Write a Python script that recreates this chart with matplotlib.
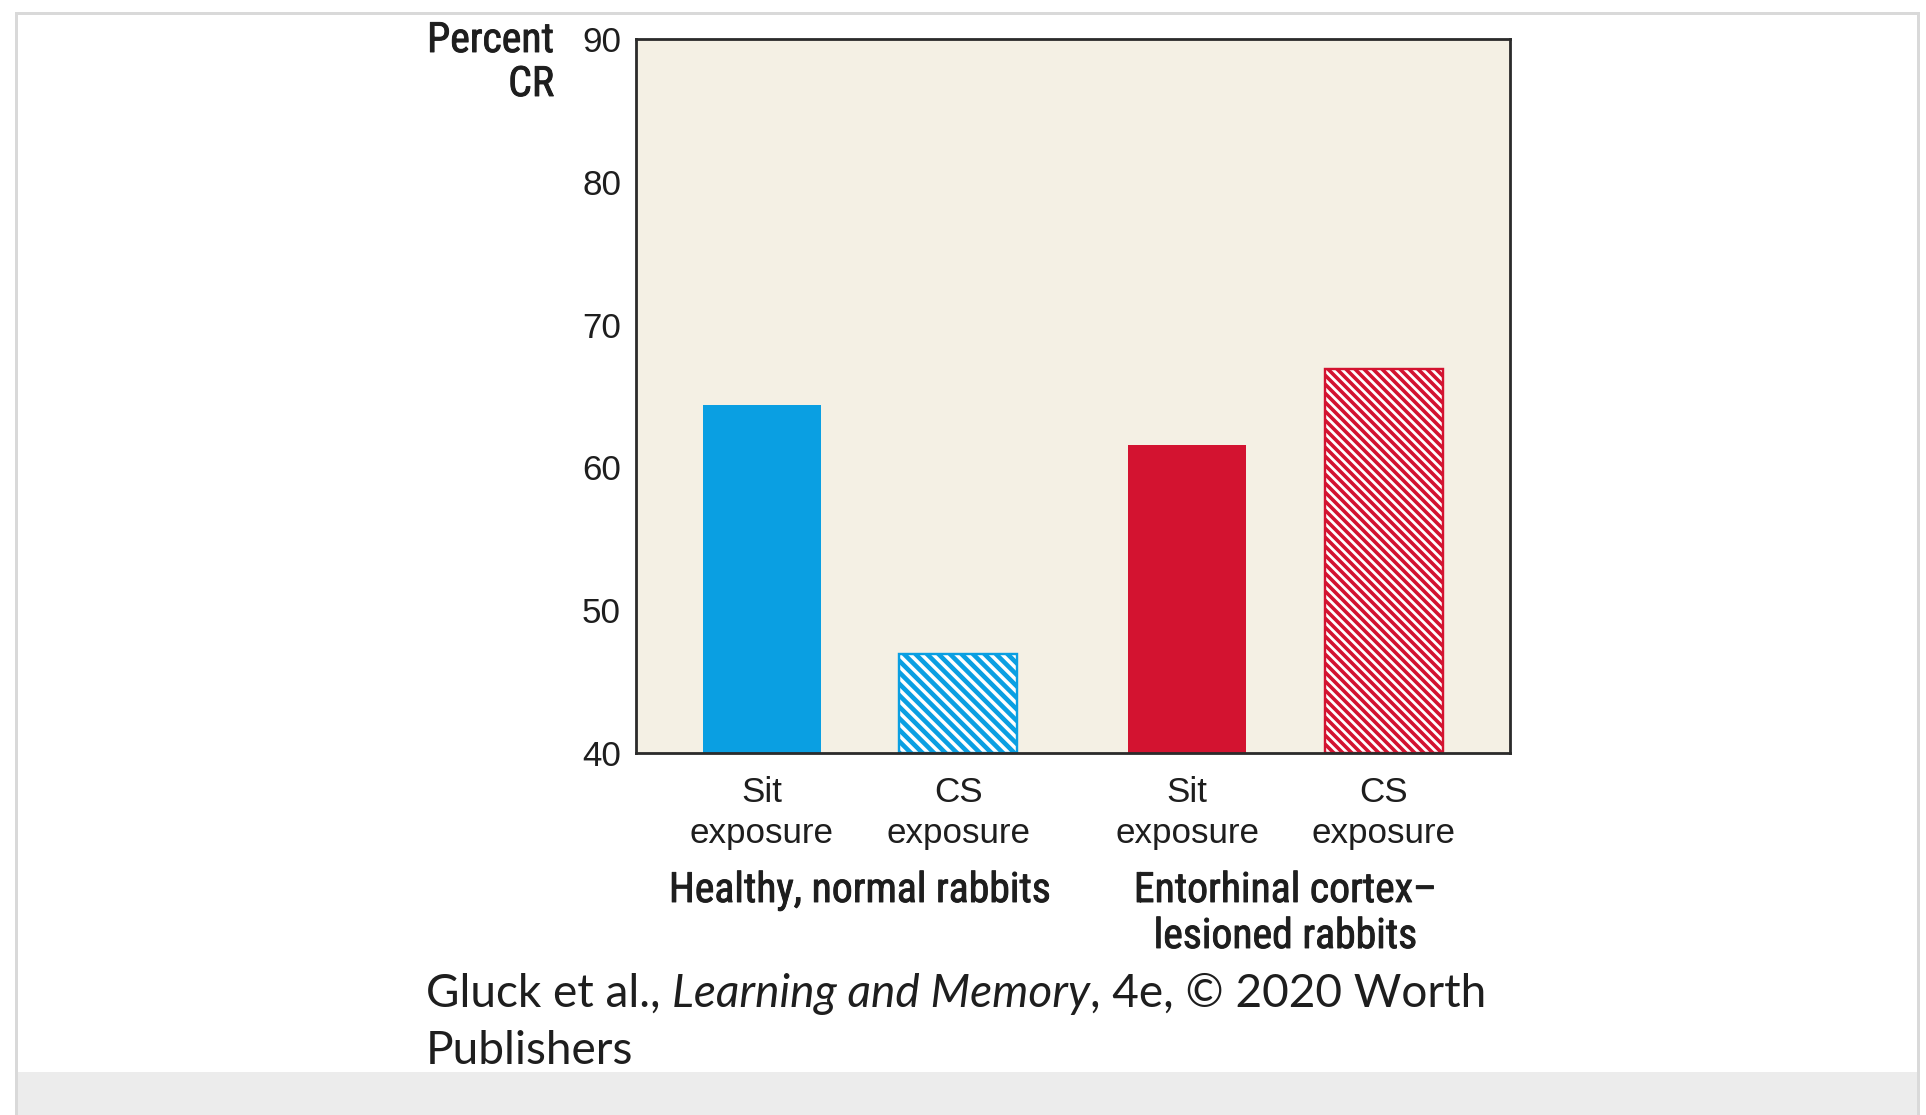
import matplotlib
matplotlib.use('Agg')
import matplotlib.pyplot as plt
from matplotlib import font_manager
from matplotlib import patheffects
from matplotlib.patches import Rectangle
from matplotlib.collections import LineCollection
from matplotlib.transforms import IdentityTransform, blended_transform_factory
import numpy as np

# ---------------- data ----------------
conditions = ['Sit\nexposure', 'CS\nexposure', 'Sit\nexposure', 'CS\nexposure']
groups = ['Healthy, normal rabbits', 'Entorhinal cortex–\nlesioned rabbits']
percent_cr = [64.4, 46.9, 61.6, 66.9]
bar_group = [0, 0, 1, 1]
bar_hatched = [False, True, False, True]
yticks = [40, 50, 60, 70, 80, 90]
ylabel_lines = ['Percent', 'CR']
footer_parts = [('Gluck et al., ', 'normal'), ('Learning and Memory', 'italic'),
                (', 4e, © 2020 Worth', 'normal')]
footer_line2 = 'Publishers'

# ---------------- style ----------------
group_colors = ['#0a9fe2', '#d31330']
hatch_spacing = [11.5, 9.0]     # px between stripes
hatch_lw = [4.6, 3.6]
axes_bg = '#f4f0e4'
spine_color = '#2b2b2b'
text_color = '#1e1e1e'

names = {f.name for f in font_manager.fontManager.ttflist}
def pick(cands, default='DejaVu Sans'):
    for c in cands:
        if c in names:
            return c
    return default

SANS = pick(['Liberation Sans', 'Arial', 'DejaVu Sans'])
COND = pick(['Liberation Sans Narrow', 'Roboto Condensed', 'Open Sans Condensed', 'DejaVu Sans'])
COND_STRETCH = 'condensed' if COND == 'DejaVu Sans' else 'normal'
FOOT = pick(['Lato', 'Open Sans', 'Noto Sans', 'DejaVu Sans'])
semi_bold = [patheffects.withStroke(linewidth=0.9, foreground=text_color)]

W, H = 1926, 1115
DPI = 72
fig = plt.figure(figsize=(W / DPI, H / DPI), dpi=DPI)
fig.patch.set_facecolor('white')

def fx(px):
    return px / W

def fy(py):
    return 1 - py / H

# page frame
fig.add_artist(Rectangle((fx(16), fy(1130)), fx(1918) - fx(16), fy(13) - fy(1130),
                         transform=fig.transFigure, facecolor='white',
                         edgecolor='#d9d9d9', lw=3, zorder=-10))
fig.add_artist(Rectangle((fx(17.5), fy(1116)), fx(1916.5) - fx(17.5), fy(1072) - fy(1116),
                         transform=fig.transFigure, facecolor='#ececec',
                         edgecolor='none', zorder=-9))

ax = fig.add_axes([fx(636), fy(753), (1510 - 636) / W, (753 - 39) / H])
ax.set_facecolor(axes_bg)

xpos = [0, 1, 2.165, 3.165]
bar_w = 0.6
ax.set_xlim(-0.641, 3.807)
ax.set_ylim(yticks[0], yticks[-1])

bars = []
for x, v, g, h in zip(xpos, percent_cr, bar_group, bar_hatched):
    c = group_colors[g]
    if h:
        b = ax.bar(x, v - yticks[0], bottom=yticks[0], width=bar_w, color='white',
                   edgecolor=c, linewidth=2.4, zorder=2)[0]
    else:
        b = ax.bar(x, v - yticks[0], bottom=yticks[0], width=bar_w, color=c,
                   edgecolor='none', zorder=2)[0]
    bars.append((b, g, h))

# manual diagonal hatching (top-left to bottom-right), in pixel space
for b, g, h in bars:
    if not h:
        continue
    x0, y0 = ax.transData.transform((b.get_x(), b.get_y()))
    x1, y1 = ax.transData.transform((b.get_x() + b.get_width(), b.get_y() + b.get_height()))
    s = hatch_spacing[g]
    segs = []
    c = x0 + y0
    while c <= x1 + y1 + s:
        segs.append([(x0 - 20, c - (x0 - 20)), (x1 + 20, c - (x1 + 20))])
        c += s
    lc = LineCollection(segs, colors=group_colors[g], linewidths=hatch_lw[g],
                        transform=IdentityTransform(), zorder=2.5)
    ax.add_collection(lc, autolim=False)
    lc.set_clip_path(b)

for sp in ax.spines.values():
    sp.set_color(spine_color)
    sp.set_linewidth(2.8)
    sp.set_zorder(5)

ax.set_yticks(yticks)
ax.set_yticklabels([str(t) for t in yticks], fontsize=35, family=SANS, color=text_color)
ax.set_xticks(xpos)
ax.set_xticklabels(conditions, fontsize=35, family=SANS, color=text_color, linespacing=1.3)
ax.tick_params(axis='y', length=0, pad=15)
ax.tick_params(axis='x', length=0, pad=23)

# y label
ylab = []
for i, line in enumerate(ylabel_lines):
    t = fig.text(fx(554), fy(52 + i * 44), line, ha='right', va='baseline',
                 fontsize=36, family=COND, fontstretch=COND_STRETCH,
                 fontweight='normal', color=text_color, path_effects=semi_bold)
    ylab.append(t)

# group labels
bt = blended_transform_factory(ax.transData, fig.transFigure)
grp_texts = []
for gi, label in enumerate(groups):
    xs = [x for x, g in zip(xpos, bar_group) if g == gi]
    xc = float(np.mean(xs))
    for li, line in enumerate(label.split('\n')):
        t = ax.text(xc, fy(902 + li * 46), line, transform=bt, ha='center', va='baseline',
                    fontsize=36, family=COND, fontstretch=COND_STRETCH,
                    fontweight='normal', color=text_color, path_effects=semi_bold)
        grp_texts.append(t)

r = fig.canvas.get_renderer()
# fit condensed text widths to the reference
w = grp_texts[0].get_window_extent(r).width
scale = 382.0 / w
for t in grp_texts + ylab:
    t.set_fontsize(t.get_fontsize() * scale)

# footer
fs = 40
x = 426
parts = []
for txt, style in footer_parts:
    t = fig.text(fx(x), fy(1007), txt, ha='left', va='baseline', fontsize=fs,
                 family=FOOT, style=style, color=text_color)
    parts.append(t)
    x += t.get_window_extent(r).width
total = x - 426
sc = 1063.0 / total
x = 426
for t in parts:
    t.set_fontsize(fs * sc)
    t.set_x(fx(x))
    x += t.get_window_extent(r).width
fig.text(fx(426), fy(1064), footer_line2, ha='left', va='baseline', fontsize=fs * sc,
         family=FOOT, color=text_color)

fig.savefig('out.png', dpi=DPI, facecolor='white')
